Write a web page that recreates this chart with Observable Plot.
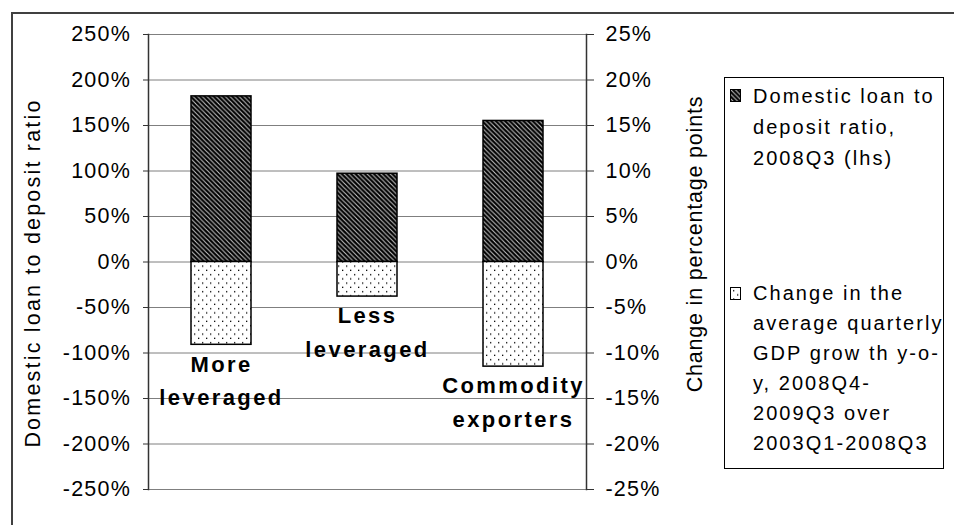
<!DOCTYPE html>
<html>
<head>
<meta charset="utf-8">
<script src="https://cdn.jsdelivr.net/npm/d3@7"></script>
<script src="https://cdn.jsdelivr.net/npm/@observablehq/plot@0.6"></script>
<style>
  html, body { margin: 0; padding: 0; background: #fff; }
  body { width: 954px; height: 525px; overflow: hidden; position: relative; font-family: "Liberation Sans", Arial, sans-serif; }
  #frame { position: absolute; left: 11px; top: 12px; width: 1000px; height: 600px; border-left: 2px solid #404040; border-top: 2px solid #404040; box-sizing: border-box; }
  #chart { position: absolute; left: 0; top: 0; }
  #legend { position: absolute; left: 724px; top: 77px; width: 220px; height: 392px; border: 1.5px solid #000; box-sizing: border-box; background: #fff; }
  .entry { position: absolute; left: 28px; font-size: 20px; letter-spacing: 2.05px; white-space: nowrap; color: #000; }
  .sw { position: absolute; left: 5px; width: 11px; height: 13px; box-sizing: border-box; border: 1px solid #000; }
  .ytitle { position: absolute; white-space: nowrap; font-size: 21.5px; color: #000; transform: translate(-50%, -50%) rotate(-90deg); }
</style>
</head>
<body>
<div id="frame"></div>
<div id="chart"></div>
<div class="ytitle" id="ltitle" style="left:33px; top:273px; letter-spacing:2.2px;"></div>
<div class="ytitle" id="rtitle" style="left:695px; top:244px; letter-spacing:0.8px;"></div>
<div id="legend"></div>
<script>
// ---- data ----
const categories = ["More leveraged", "Less leveraged", "Commodity exporters"];
const categoryLabels = ["More\nleveraged", "Less\nleveraged", "Commodity\nexporters"];
const loanToDeposit = [182, 97, 155];          // % (left axis)
const gdpChange = [-9.1, -3.8, -11.5];         // percentage points (right axis)
const leftTicks = [-250, -200, -150, -100, -50, 0, 50, 100, 150, 200, 250];
const rightTicks = [-25, -20, -15, -10, -5, 0, 5, 10, 15, 20, 25];
const axisRatio = 10; // left units per right unit
const leftTitle = "Domestic loan to deposit ratio";
const rightTitle = "Change in percentage points";
const seriesNames = ["Domestic loan to\ndeposit ratio,\n2008Q3 (lhs)",
  "Change in the\naverage quarterly\nGDP grow th y-o-\ny, 2008Q4-\n2009Q3 over\n2003Q1-2008Q3"];

const ldrRows = categories.map((c, i) => ({cat: c, v: loanToDeposit[i]}));
const gdpRows = categories.map((c, i) => ({cat: c, v: gdpChange[i] * axisRatio, label: categoryLabels[i]}));

const svg = Plot.plot({
  width: 954,
  height: 525,
  marginLeft: 148,
  marginRight: 368,
  marginTop: 34,
  marginBottom: 36,
  style: {fontFamily: "'Liberation Sans', Arial, sans-serif", fontSize: "21.5px", letterSpacing: "1.2px", background: "transparent", overflow: "visible", color: "#000"},
  x: {domain: categories, paddingInner: 0.59, paddingOuter: 0.295, axis: null},
  y: {domain: [-250, 250], axis: null},
  marks: [
    Plot.gridY(leftTicks, {stroke: "#7f7f7f", strokeOpacity: 1, strokeWidth: 1}),
    Plot.barY(ldrRows, {x: "cat", y1: 0, y2: "v", fill: "url(#hatch)", stroke: "#000", strokeWidth: 1.5}),
    Plot.barY(gdpRows, {x: "cat", y1: 0, y2: "v", fill: "url(#dots)", stroke: "#000", strokeWidth: 1.5}),
    Plot.frame({anchor: "left", stroke: "#333", strokeWidth: 1.5}),
    Plot.frame({anchor: "right", stroke: "#333", strokeWidth: 1.5}),
    Plot.axisY(leftTicks, {anchor: "left", tickSize: 5, tickPadding: 12.5, tickFormat: d => `${d}%`, label: null, stroke: "#333"}),
    Plot.axisY(rightTicks.map(t => t * axisRatio), {anchor: "right", tickSize: 7, tickPadding: 12, tickFormat: d => `${d / axisRatio}%`, label: null, stroke: "#333"}),
    Plot.text(gdpRows, {x: "cat", y: "v", text: "label", lineAnchor: "top", dy: 3, fontWeight: "bold", fontSize: 22, lineHeight: 1.52, fill: "#000"})
  ]
});

// patterns
const defs = d3.select(svg).insert("defs", ":first-child");
const hatch = defs.append("pattern").attr("id", "hatch").attr("patternUnits", "userSpaceOnUse").attr("width", 4.6).attr("height", 4.6);
hatch.append("rect").attr("width", 4.6).attr("height", 4.6).attr("fill", "#000");
hatch.append("path").attr("d", "M0,0L4.6,4.6M-1,3.6L1,5.6M3.6,-1L5.6,1").attr("stroke", "#c0c0c0").attr("stroke-width", 1.1);
const dots = defs.append("pattern").attr("id", "dots").attr("patternUnits", "userSpaceOnUse").attr("width", 8).attr("height", 8.5);
dots.append("rect").attr("width", 8).attr("height", 8.5).attr("fill", "#fff");
dots.append("rect").attr("x", 2).attr("y", 2).attr("width", 1.3).attr("height", 1.3).attr("fill", "#000");
dots.append("rect").attr("x", 6).attr("y", 6.25).attr("width", 1.3).attr("height", 1.3).attr("fill", "#000");
d3.select(svg).selectAll("g[font-weight='bold']").style("letter-spacing", "2.4px");

document.getElementById("chart").appendChild(svg);

document.getElementById("ltitle").textContent = leftTitle;
document.getElementById("rtitle").textContent = rightTitle;

// legend
const legend = document.getElementById("legend");
const entryTops = [2.5, 200];
const lineHeights = [31, 30];
const fills = ["url(#hatch)", "url(#dots)"];
seriesNames.forEach((name, i) => {
  const e = document.createElement("div");
  e.className = "entry";
  e.style.top = entryTops[i] + "px";
  e.style.lineHeight = lineHeights[i] + "px";
  e.innerHTML = name.split("\n").join("<br>");
  legend.appendChild(e);
  const s = document.createElementNS("http://www.w3.org/2000/svg", "svg");
  s.setAttribute("class", "sw");
  s.style.top = (entryTops[i] + 8.5) + "px";
  const r = document.createElementNS("http://www.w3.org/2000/svg", "rect");
  r.setAttribute("width", "100%"); r.setAttribute("height", "100%"); r.setAttribute("fill", fills[i]);
  s.appendChild(r);
  legend.appendChild(s);
});
</script>
</body>
</html>
